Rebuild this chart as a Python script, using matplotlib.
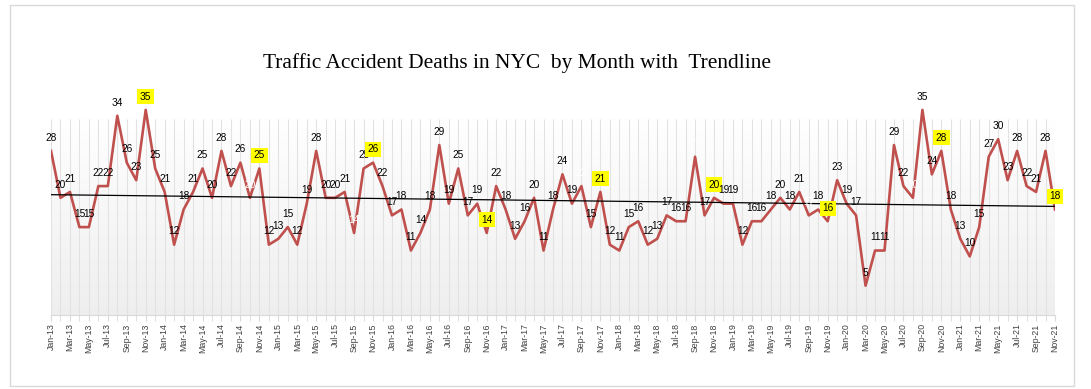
import numpy as np
import matplotlib
matplotlib.use("Agg")
import matplotlib.pyplot as plt
from matplotlib.patches import Rectangle

# ---- data ----
months = ["Jan", "Feb", "Mar", "Apr", "May", "Jun", "Jul", "Aug", "Sep", "Oct", "Nov", "Dec"]
years = ["13", "14", "15", "16", "17", "18", "19", "20", "21"]
labels = [f"{m}-{y}" for y in years for m in months][:107]

deaths_2013 = [28, 20, 21, 15, 15, 22, 22, 34, 26, 23, 35, 25]
deaths_2014 = [21, 12, 18, 21, 25, 20, 28, 22, 26, 20, 25, 12]
deaths_2015 = [13, 15, 12, 19, 28, 20, 20, 21, 14, 25, 26, 22]
deaths_2016 = [17, 18, 11, 14, 18, 29, 19, 25, 17, 19, 14, 22]
deaths_2017 = [18, 13, 16, 20, 11, 18, 24, 19, 22, 15, 21, 12]
deaths_2018 = [11, 15, 16, 12, 13, 17, 16, 16, 27, 17, 20, 19]
deaths_2019 = [19, 12, 16, 16, 18, 20, 18, 21, 17, 18, 16, 23]
deaths_2020 = [19, 17, 5, 11, 11, 29, 22, 20, 35, 24, 28, 18]
deaths_2021 = [13, 10, 15, 27, 30, 23, 28, 22, 21, 28, 18]
deaths = (deaths_2013 + deaths_2014 + deaths_2015 + deaths_2016 + deaths_2017
          + deaths_2018 + deaths_2019 + deaths_2020 + deaths_2021)

# labels shown in white (invisible) in the original
white_labels = ["Oct-14", "Sep-15", "Sep-17", "Sep-18", "Sep-19", "Aug-20"]

title = "Traffic Accident Deaths in NYC  by Month with  Trendline"

# ---- figure ----
W, H = 1091, 389
fig = plt.figure(figsize=(W / 100, H / 100), dpi=100)
fig.patch.set_facecolor("white")

# outer chart border
fig.add_artist(Rectangle((10 / W, 1 - 386 / H), (1074 - 10) / W, (386 - 5) / H,
                         transform=fig.transFigure, fill=False,
                         edgecolor="#d9d9d9", lw=1.0))

left, right, top, bottom = 51, 1055, 80.6, 315
ax = fig.add_axes([left / W, 1 - bottom / H, (right - left) / W, (bottom - top) / H])

n = len(deaths)
x = np.arange(n)

# gradient background (white at top -> light gray at bottom)
grad_top = 33.5
g = np.linspace(0, 1, 256).reshape(-1, 1)
c_top = np.array([1.0, 1.0, 1.0])
c_bot = np.array([0.935, 0.935, 0.935])
img = c_top[None, None, :] * (1 - g[:, :, None]) + c_bot[None, None, :] * g[:, :, None]
ax.imshow(img, extent=(0, n - 1, 0, grad_top), aspect="auto", zorder=0, origin="upper")
ax.set_xlim(0, n - 1)
ax.set_ylim(0, 40)

# vertical gridlines
ax.vlines(x, 0, grad_top, colors="#e2e2e2", lw=0.75, zorder=1)

# main line
ax.plot(x, deaths, color="#c0504d", lw=1.9, zorder=3)

# trendline (linear fit)
coef = np.polyfit(x, deaths, 1)
ax.plot(x, np.polyval(coef, x), color="black", lw=0.9, zorder=4)

# data labels
for i, (lab, v) in enumerate(zip(labels, deaths)):
    kw = dict(textcoords="offset points", xytext=(0, 9.5), ha="center", va="center",
              fontsize=7.3, family="Liberation Sans", zorder=5)
    if lab.startswith("Nov"):
        ax.annotate(str(v), (i, v), color="black",
                    bbox=dict(boxstyle="square,pad=0.25", fc="#ffff00", ec="none"), **kw)
    elif lab in white_labels:
        ax.annotate(str(v), (i, v), color="white", **kw)
    else:
        ax.annotate(str(v), (i, v), color="black", **kw)

# axes styling
for s in ["top", "right", "left"]:
    ax.spines[s].set_visible(False)
ax.spines["bottom"].set_color("#d9d9d9")
ax.spines["bottom"].set_linewidth(0.8)
ax.set_yticks([])
ax.set_xticks(x, minor=True)
ax.set_xticks(x[::2])
ax.set_xticklabels(labels[::2], rotation=90, fontsize=6.3, family="Liberation Sans",
                   color="#404040")
ax.tick_params(axis="x", which="both", length=4, color="#d9d9d9", pad=2)

fig.text(517 / W, 1 - 63 / H, title, ha="center", va="center",
         fontsize=15.4, family="Liberation Serif", color="black")

fig.savefig("out.png", dpi=100)
